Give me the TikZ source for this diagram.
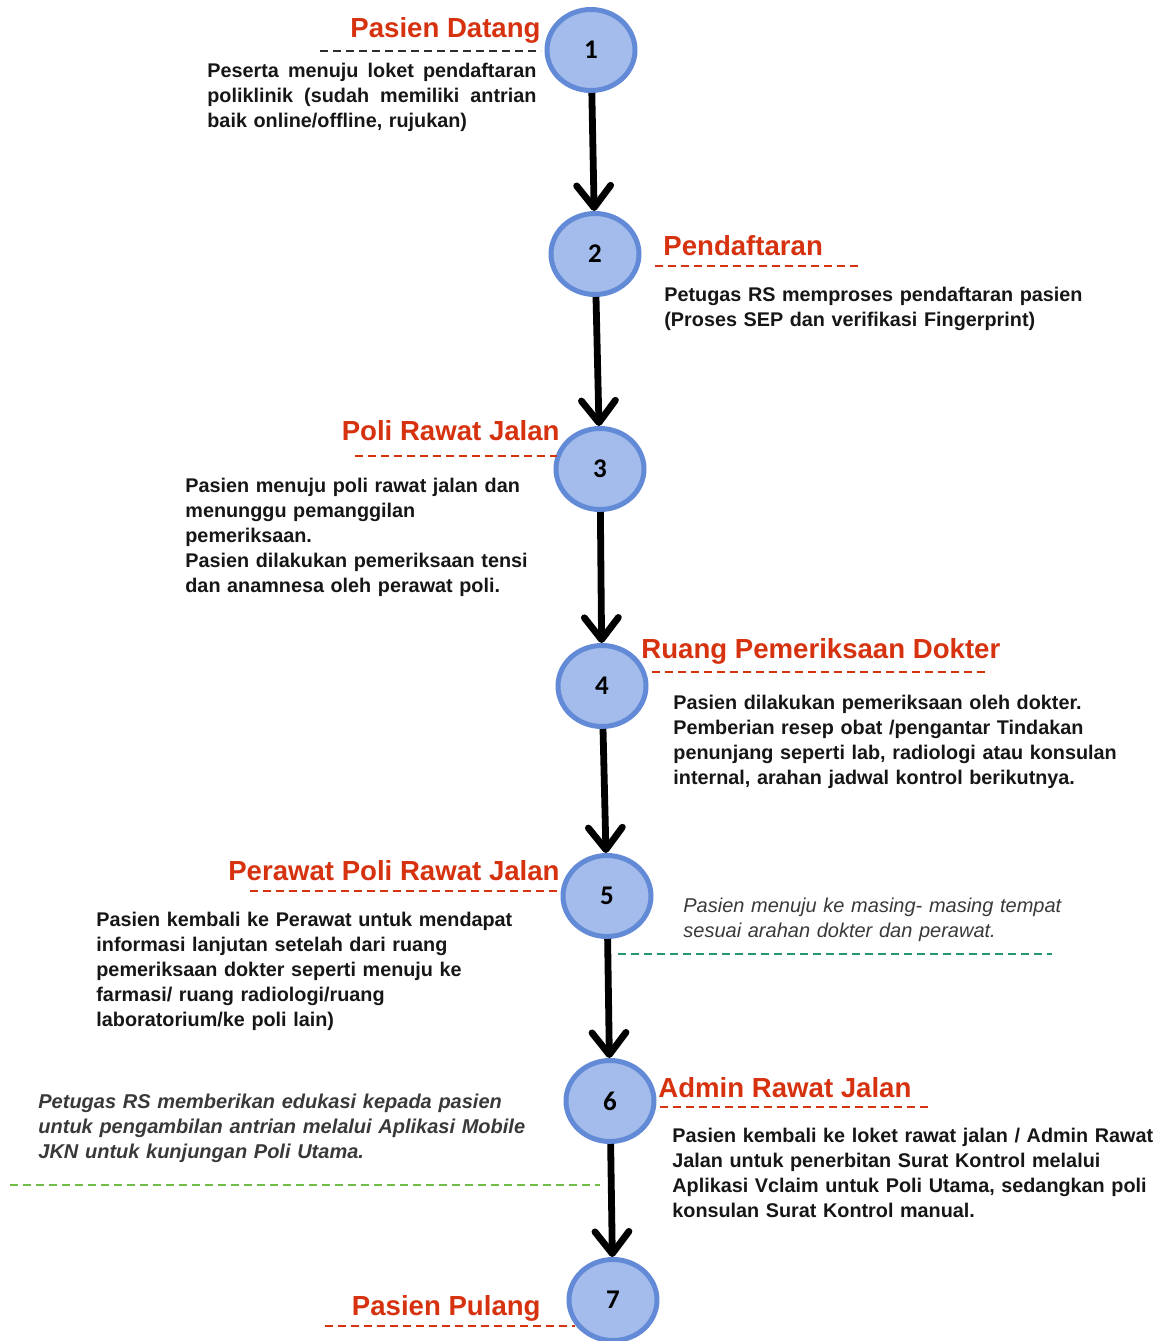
\documentclass[tikz,border=0pt]{standalone}
\usepackage{fontspec}
\setmainfont{Liberation Sans}
\newfontfamily\numfont{Carlito}
\usepackage{xcolor}
\definecolor{Col1}{RGB}{214,50,15}
\definecolor{Col2}{RGB}{163,188,235}
\definecolor{Col3}{RGB}{98,138,214}
\definecolor{Col4}{RGB}{38,150,112}
\definecolor{Col5}{RGB}{112,190,72}
\definecolor{Col6}{RGB}{22,22,22}
\usetikzlibrary{shapes.geometric}
\usetikzlibrary{arrows.meta}
\tikzstyle{Circ}=[ellipse,draw=Col3,fill=Col2,line width=2.5pt,
minimum width=44pt,minimum height=40.5pt,inner sep=0pt,
font=\numfont\bfseries\fontsize{13.5}{14}\selectfont]
\tikzstyle{Arr}=[line width=3.4pt,-{Straight Barb[length=11pt,width=17pt,round]}]
\tikzstyle{Title}=[text=Col1,inner sep=0pt,font=\bfseries\fontsize{13.8}{14}\selectfont]
\tikzstyle{Body}=[text=Col6,inner sep=0pt,text width=300pt,align=left,
font=\bfseries\fontsize{9.9}{12.5}\selectfont]
\tikzstyle{Note}=[Body,text=Col6!85,font=\itshape\fontsize{10}{12.5}\selectfont]
\tikzstyle{Rule}=[draw=Col1,line width=1pt,dash pattern=on 4pt off 2.5pt]
\begin{document}
\begin{tikzpicture}[x=0.5pt,y=-0.5pt]
        \useasboundingbox(0,0)rectangle(1158,1341);
        % steps
        \node[Circ](1)at(591,50){1};
        \node[Circ](2)at(595,254){2};
        \node[Circ](3)at(600,469){3};
        \node[Circ](4)at(602,686){4};
        \node[Circ](5)at(607,896){5};
        \node[Circ](6)at(610,1101){6};
        \node[Circ](7)at(613,1300){7};
        \draw[Arr](1)--(2);
        \draw[Arr](2)--(3);
        \draw[Arr](3)--(4);
        \draw[Arr](4)--(5);
        \draw[Arr](5)--(6);
        \draw[Arr](6)--(7);
        % titles
        \node[Title,anchor=base east](t1)at(541,37){Pasien Datang};
        \node[Title,anchor=base west](t2)at(663,255){Pendaftaran};
        \node[Title,anchor=base east](t3)at(560,440){Poli Rawat Jalan};
        \node[Title,anchor=base west](t4)at(641,658){Ruang Pemeriksaan Dokter};
        \node[Title,anchor=base east](t5)at(560,880){Perawat Poli Rawat Jalan};
        \node[Title,anchor=base west](t6)at(658,1097){Admin Rawat Jalan};
        \node[Title,anchor=base east](t7)at(541,1315){Pasien Pulang};
        \draw[Rule,draw=Col6!90](320,51)--(541,51);
        \draw[Rule](655,266)--(860,266);
        \draw[Rule](355,456)--(557,456);
        \draw[Rule](652,672)--(990,672);
        \draw[Rule](250,891)--(560,891);
        \draw[Rule](660,1107)--(928,1107);
        \draw[Rule](325,1326)--(575,1326);
        % texts
        \node[Body,anchor=base west](b1)at(207,77){%
          \makebox[164.5pt][s]{Peserta\hfil menuju\hfil loket\hfil pendaftaran}\\
          \makebox[164.5pt][s]{poliklinik\hfil (sudah\hfil memiliki\hfil antrian}\\
          baik online/offline, rujukan)};
        \node[Body,anchor=base west](b2)at(664,301){%
          Petugas RS memproses pendaftaran pasien\\
          (Proses SEP dan verifikasi Fingerprint)};
        \node[Body,anchor=base west](b3)at(185,492){%
          Pasien menuju poli rawat jalan dan\\
          menunggu pemanggilan\\
          pemeriksaan.\\
          Pasien dilakukan pemeriksaan tensi\\
          dan anamnesa oleh perawat poli.};
        \node[Body,anchor=base west](b4)at(673,709){%
          Pasien dilakukan pemeriksaan oleh dokter.\\
          Pemberian resep obat /pengantar Tindakan\\
          penunjang seperti lab, radiologi atau konsulan\\
          internal, arahan jadwal kontrol berikutnya.};
        \node[Body,anchor=base west](b5)at(96,926){%
          Pasien kembali ke Perawat untuk mendapat\\
          informasi lanjutan setelah dari ruang\\
          pemeriksaan dokter seperti menuju ke\\
          farmasi/ ruang radiologi/ruang\\
          laboratorium/ke poli lain)};
        \node[Note,anchor=base west](n5)at(683,912){%
          Pasien menuju ke masing- masing tempat\\
          sesuai arahan dokter dan perawat.};
        \draw[Rule,draw=Col4](618,954)--(1052,954);
        \node[Body,anchor=base west](b6)at(672,1142){%
          Pasien kembali ke loket rawat jalan / Admin Rawat\\
          Jalan untuk penerbitan Surat Kontrol melalui\\
          Aplikasi Vclaim untuk Poli Utama, sedangkan poli\\
          konsulan Surat Kontrol manual.};
        \node[Note,anchor=base west,font=\bfseries\itshape\fontsize{10}{12.5}\selectfont](n6)at(38,1108){%
          Petugas RS memberikan edukasi kepada pasien\\
          untuk pengambilan antrian melalui Aplikasi Mobile\\
          JKN untuk kunjungan Poli Utama.};
        \draw[Rule,draw=Col5](10,1185)--(600,1185);
    \end{tikzpicture}
\end{document}
